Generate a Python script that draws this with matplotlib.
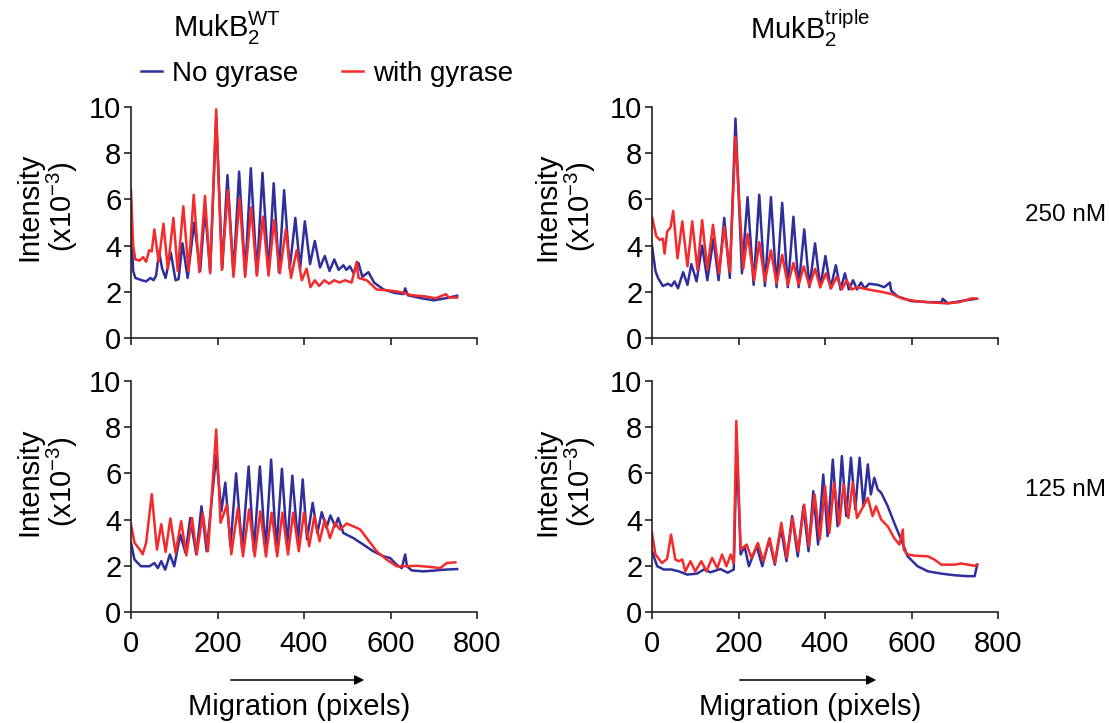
import matplotlib
matplotlib.use("Agg")
import matplotlib.pyplot as plt

plt.rcParams['font.family'] = ['Liberation Sans', 'DejaVu Sans']
plt.rcParams['mathtext.fontset'] = 'custom'
plt.rcParams['mathtext.rm'] = 'Liberation Sans'
plt.rcParams['mathtext.it'] = 'Liberation Sans'

BLUE = '#2e2e9c'
RED = '#f52a2a'

# MukB2 WT, 250 nM
wt250_blue_x = [0, 5, 10, 25, 35, 45, 52, 58, 65, 72, 80, 92, 103, 110, 119, 131, 146, 160, 171, 183,
                197, 211, 223, 237, 250, 264, 277, 291, 304, 318, 330, 342, 354, 367, 380, 391, 402,
                414, 425, 437, 448, 459, 470, 480, 491, 498, 506, 515, 526, 535, 549, 562, 584, 610,
                630, 634, 640, 669, 700, 730, 754]
wt250_blue_y = [4.9, 2.9, 2.6, 2.5, 2.45, 2.6, 2.5, 2.7, 3.75, 3.0, 2.6, 3.7, 2.5, 2.55, 4.1, 2.6, 5.0,
                2.9, 5.6, 2.9, 9.5, 3.0, 7.05, 2.75, 7.2, 2.75, 7.35, 2.75, 7.15, 2.8, 6.7, 2.85, 6.4,
                3.0, 5.2, 3.0, 5.05, 3.2, 4.2, 3.05, 3.55, 2.9, 3.4, 2.95, 3.15, 2.95, 3.1, 2.8, 3.25,
                2.65, 2.85, 2.4, 2.1, 1.95, 1.9, 2.15, 1.85, 1.73, 1.63, 1.73, 1.83]
wt250_red_x = [0, 5, 10, 20, 28, 35, 42, 48, 54, 64, 75, 85, 98, 108, 121, 133, 145, 158, 171, 183,
               197, 210, 224, 237, 251, 264, 278, 291, 305, 318, 331, 344, 358, 370, 383, 395, 406,
               415, 425, 435, 447, 458, 470, 482, 495, 510, 522, 526, 545, 568, 600, 620, 650, 680,
               705, 728, 735, 754]
wt250_red_y = [6.4, 4.0, 3.4, 3.35, 3.5, 3.3, 3.8, 3.75, 4.7, 3.3, 4.95, 3.0, 5.2, 2.9, 5.7, 2.9, 6.2,
               2.85, 6.15, 2.8, 9.9, 2.95, 6.4, 2.65, 6.05, 2.65, 5.65, 2.7, 5.25, 2.7, 5.1, 2.8, 4.7,
               2.6, 3.8, 2.5, 3.0, 2.2, 2.5, 2.25, 2.5, 2.35, 2.5, 2.4, 2.5, 2.4, 3.3, 2.6, 2.5, 2.1,
               2.05, 2.0, 1.85, 1.8, 1.72, 1.9, 1.75, 1.75]

# MukB2 triple, 250 nM
tr250_blue_x = [0, 8, 14, 25, 37, 45, 52, 60, 72, 82, 91, 103, 116, 128, 142, 154, 167, 180, 193, 208,
                221, 235, 248, 261, 275, 288, 301, 314, 327, 339, 352, 364, 377, 389, 401, 413, 425,
                436, 446, 455, 465, 474, 483, 492, 502, 522, 537, 550, 553, 568, 599, 638, 670, 672,
                684, 715, 750]
tr250_blue_y = [4.0, 2.9, 2.6, 2.25, 2.35, 2.25, 2.45, 2.15, 2.85, 2.3, 3.2, 2.45, 4.0, 2.5, 4.3, 2.5,
                5.2, 2.6, 9.5, 2.8, 6.1, 2.3, 6.2, 2.25, 6.1, 2.2, 5.85, 2.2, 5.25, 2.2, 4.7, 2.2, 4.1,
                2.2, 3.55, 2.15, 3.15, 2.1, 2.8, 2.1, 2.5, 2.1, 2.4, 2.15, 2.35, 2.3, 2.2, 2.4, 2.05,
                1.8, 1.6, 1.55, 1.55, 1.7, 1.5, 1.6, 1.7]
tr250_red_x = [0, 10, 18, 25, 29, 35, 43, 49, 59, 70, 82, 93, 105, 116, 128, 141, 155, 167, 180, 193,
               211, 221, 236, 248, 261, 275, 288, 301, 314, 327, 339, 351, 364, 377, 389, 402, 414,
               427, 439, 450, 462, 475, 500, 530, 555, 580, 610, 640, 680, 710, 740, 752]
tr250_red_y = [5.25, 4.4, 4.25, 4.3, 3.65, 4.6, 4.8, 5.5, 3.45, 5.05, 3.1, 5.05, 2.95, 5.1, 2.95, 4.9,
               2.8, 4.8, 2.85, 8.7, 3.0, 4.5, 2.5, 4.15, 2.45, 3.8, 2.35, 3.6, 2.3, 3.25, 2.3, 3.1,
               2.25, 3.0, 2.2, 2.8, 2.15, 2.65, 2.1, 2.5, 2.1, 2.2, 2.1, 2.0, 1.9, 1.7, 1.6, 1.55,
               1.5, 1.55, 1.72, 1.7]

# MukB2 WT, 125 nM
wt125_blue_x = [0, 8, 23, 43, 54, 62, 70, 79, 90, 100, 114, 126, 137, 151, 163, 175, 197, 209, 218,
                230, 243, 257, 272, 284, 298, 311, 324, 336, 349, 361, 373, 386, 397, 407, 420, 431,
                441, 452, 461, 472, 479, 491, 514, 537, 560, 584, 599, 614, 626, 634, 638, 649, 676,
                700, 723, 754]
wt125_blue_y = [3.0, 2.27, 1.98, 1.98, 2.12, 1.9, 2.2, 1.83, 2.49, 1.98, 3.35, 2.56, 4.07, 2.49, 4.58,
                2.63, 6.8, 4.36, 5.6, 2.85, 6.0, 2.7, 6.3, 2.63, 6.3, 2.63, 6.6, 2.7, 6.2, 2.85, 5.9,
                3.0, 5.74, 3.14, 4.72, 3.42, 4.32, 3.64, 4.18, 3.71, 4.07, 3.42, 3.2, 2.92, 2.63,
                2.41, 2.34, 2.05, 1.9, 2.49, 1.98, 1.8, 1.76, 1.79, 1.83, 1.86]
wt125_red_x = [0, 8, 23, 27, 35, 48, 60, 70, 80, 91, 103, 116, 128, 141, 152, 166, 178, 197, 207, 222,
               232, 247, 259, 273, 286, 299, 312, 325, 338, 350, 363, 375, 388, 400, 412, 424, 436,
               448, 460, 472, 483, 499, 514, 530, 545, 568, 591, 614, 630, 661, 692, 715, 730, 750]
wt125_red_y = [3.8, 3.0, 2.63, 2.5, 3.0, 5.1, 2.7, 3.8, 2.6, 4.05, 2.55, 3.93, 2.45, 4.07, 2.5, 4.26,
               2.63, 7.9, 3.86, 4.65, 2.5, 4.5, 2.41, 4.44, 2.41, 4.36, 2.4, 4.3, 2.41, 4.3, 2.49, 4.3,
               2.63, 4.3, 2.85, 4.15, 3.06, 4.0, 3.2, 3.86, 3.57, 3.83, 3.71, 3.57, 3.2, 2.63, 2.27,
               1.98, 1.98, 2.0, 1.95, 1.9, 2.12, 2.15]

# MukB2 triple, 125 nM
tr125_blue_x = [0, 12, 27, 45, 62, 81, 104, 120, 135, 158, 175, 189, 196, 205, 214, 224, 242, 255,
                271, 284, 298, 311, 324, 337, 350, 362, 373, 384, 396, 406, 418, 429, 439, 449, 460,
                470, 480, 489, 499, 506, 514, 522, 530, 545, 560, 576, 591, 614, 638, 669, 700, 730,
                746, 752]
tr125_blue_y = [2.63, 1.98, 1.84, 1.84, 1.76, 1.62, 1.66, 1.84, 1.72, 1.86, 1.7, 1.84, 7.2, 2.49, 2.85,
                1.98, 2.85, 1.98, 3.14, 2.05, 3.64, 2.2, 4.15, 2.41, 4.58, 2.63, 5.23, 2.92, 5.95,
                3.28, 6.6, 3.71, 6.75, 4.15, 6.68, 4.44, 6.68, 4.58, 6.39, 5.09, 5.81, 5.3, 5.16,
                4.58, 3.86, 3.14, 2.41, 1.98, 1.76, 1.66, 1.59, 1.55, 1.55, 2.05]
tr125_red_x = [0, 8, 23, 35, 44, 54, 62, 70, 77, 89, 100, 114, 126, 139, 151, 162, 172, 182, 189, 195,
               205, 219, 230, 245, 257, 272, 284, 299, 312, 325, 338, 352, 363, 376, 388, 400, 410,
               421, 433, 443, 454, 464, 474, 499, 510, 518, 530, 545, 560, 572, 580, 582, 591, 607,
               638, 653, 669, 700, 715, 746, 752]
tr125_red_y = [3.42, 2.49, 2.12, 2.3, 3.35, 2.27, 2.2, 2.27, 1.76, 2.2, 1.76, 2.2, 1.76, 2.34, 1.9,
               2.49, 1.98, 2.49, 2.1, 8.27, 2.7, 2.92, 2.34, 2.99, 2.2, 3.2, 2.12, 3.86, 2.34, 4.07,
               2.63, 4.65, 2.85, 5.09, 3.14, 5.45, 3.42, 5.59, 3.79, 5.52, 4.07, 5.59, 4.07, 4.94,
               4.15, 4.58, 4.0, 3.71, 3.2, 2.92, 3.57, 2.7, 2.49, 2.44, 2.41, 2.27, 2.05, 2.05, 2.1,
               2.0, 2.05]

panels = [
    (wt250_blue_x, wt250_blue_y, wt250_red_x, wt250_red_y),
    (tr250_blue_x, tr250_blue_y, tr250_red_x, tr250_red_y),
    (wt125_blue_x, wt125_blue_y, wt125_red_x, wt125_red_y),
    (tr125_blue_x, tr125_blue_y, tr125_red_x, tr125_red_y),
]

W, H = 1109, 723
fig = plt.figure(figsize=(W / 100, H / 100), dpi=100)

lefts = [131 / W, 652 / W]
bottoms = [1 - 338 / H, 1 - 612 / H]
aw, ah = 346 / W, 231 / H

axes = []
for r in range(2):
    for c in range(2):
        ax = fig.add_axes([lefts[c], bottoms[r], aw, ah])
        bx, by, rx, ry = panels[r * 2 + c]
        ax.plot(bx, by, color=BLUE, lw=1.8, label='No gyrase', solid_joinstyle='round')
        ax.plot(rx, ry, color=RED, lw=1.8, label='with gyrase', solid_joinstyle='round')
        ax.set_xlim(0, 800)
        ax.set_ylim(0, 10)
        ax.set_xticks([0, 200, 400, 600, 800])
        ax.set_yticks([0, 2, 4, 6, 8, 10])
        ax.spines['top'].set_visible(False)
        ax.spines['right'].set_visible(False)
        for s in ('left', 'bottom'):
            ax.spines[s].set_linewidth(1.2)
            ax.spines[s].set_color('#222222')
        ax.tick_params(direction='out', length=5, width=1.2, color='#222222',
                       labelsize=21, pad=2)
        ax.tick_params(axis='x', pad=8)
        if r == 0:
            ax.set_xticklabels([])
        axes.append(ax)

# titles
fig.text(227 / W, 1 - 28 / H, r'$\mathrm{MukB_2^{WT}}$', fontsize=21, ha='center', va='center')
fig.text(810 / W, 1 - 28 / H, r'$\mathrm{MukB_2^{triple}}$', fontsize=21, ha='center', va='center')

# legend
fig.legend(handles=axes[0].get_lines(), loc='center left', bbox_to_anchor=(141 / W, 1 - 74 / H),
           ncol=2, frameon=False, fontsize=20, handlelength=0.75, handletextpad=0.35,
           columnspacing=1.6, borderpad=0, borderaxespad=0)

# y labels
for cx in (48 / W, 566 / W):
    for cy in (1 - 207 / H, 1 - 482 / H):
        fig.text(cx, cy, 'Intensity\n(x10$^{-3}$)', rotation=90, fontsize=21,
                 ha='center', va='center', multialignment='center', linespacing=1.05)

# concentration labels
fig.text(1106 / W, 1 - 215 / H, '250 nM', fontsize=17.5, ha='right', va='center')
fig.text(1106 / W, 1 - 490 / H, '125 nM', fontsize=17.5, ha='right', va='center')

# x labels with arrows
for x0, x1, xc in ((228, 367, 299), (737, 879, 810)):
    fig.add_artist(matplotlib.patches.FancyArrowPatch(
        (x0 / W, 1 - 680 / H), (x1 / W, 1 - 680 / H), transform=fig.transFigure,
        arrowstyle='-|>', mutation_scale=14, color='black', lw=1.1))
    fig.text(xc / W, 1 - 707 / H, 'Migration (pixels)', fontsize=21, ha='center', va='center')

fig.savefig('out.png', dpi=100)
